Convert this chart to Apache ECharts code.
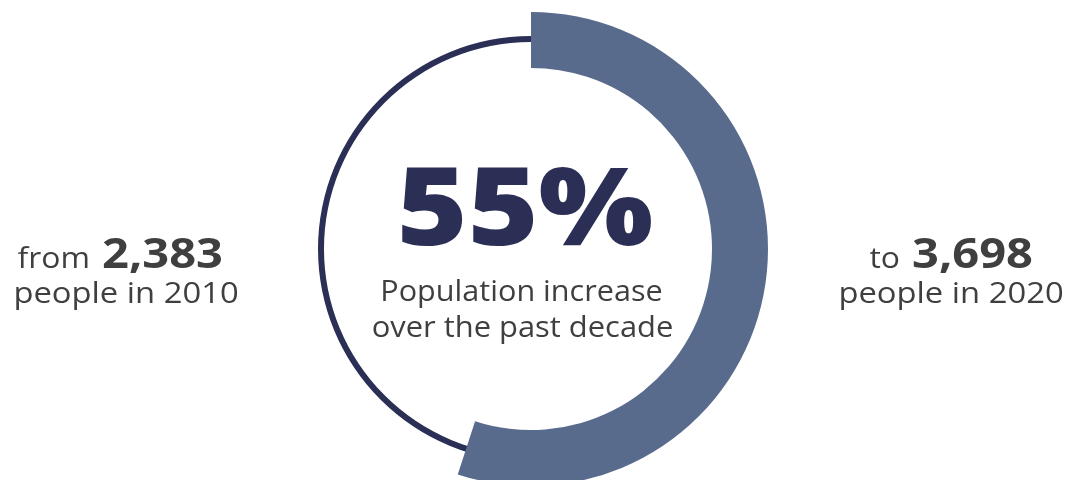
<!DOCTYPE html>
<html>
<head>
<meta charset="utf-8">
<script src="https://cdn.jsdelivr.net/npm/echarts@6/dist/echarts.min.js"></script>
<style>
html,body{margin:0;padding:0;background:#fff;}
#c{width:1072px;height:480px;}
</style>
</head>
<body>
<div id="c"></div>
<script>
// ---- data ----
var percentIncrease = [55];
var populationValues = [2383, 3698];
var populationYears = [2010, 2020];
var sideWords = ['from', 'to'];
var centerCaption = ['Population increase', 'over the past decade'];

function fmt(n){ return n.toLocaleString('en-US'); }

var chart = echarts.init(document.getElementById('c'), null, {renderer: 'canvas'});
var cx = 531, cy = 249;
var navy = '#2b2f55';
var steel = '#596b8c';
var gray = '#3f3f3f';
var font = '"Open Sans", Lato, sans-serif';

var option = {
  backgroundColor: '#ffffff',
  animation: false,
  series: [
    {
      type: 'pie',
      silent: true,
      z: 1,
      center: [cx, cy],
      radius: [207, 213],
      label: {show: false},
      labelLine: {show: false},
      itemStyle: {color: navy, borderWidth: 0},
      data: [{value: 100}]
    },
    {
      type: 'pie',
      silent: true,
      z: 2,
      center: [cx, cy],
      radius: [181, 237],
      startAngle: 90,
      clockwise: true,
      label: {show: false},
      labelLine: {show: false},
      itemStyle: {borderWidth: 0},
      data: [
        {value: percentIncrease[0], itemStyle: {color: steel}},
        {value: 100 - percentIncrease[0], itemStyle: {color: 'rgba(0,0,0,0)'}}
      ]
    }
  ]
};

function txt(str, x, y, size, weight, color, align, sx) {
  return {
    type: 'text', z: 10, x: x, y: y, scaleX: sx || 1,
    style: {
      text: str, fill: color,
      font: weight + ' ' + size + 'px ' + font,
      align: align, verticalAlign: 'middle'
    }
  };
}

option.graphic = [
  txt(percentIncrease[0] + '%', 525, 214.5, 108, 800, navy, 'center', 1.12),
  txt(centerCaption[0], 521.5, 292.5, 30, 500, gray, 'center', 1.02),
  txt(centerCaption[1], 522.5, 328.5, 30, 500, gray, 'center', 1.03),
  // left
  txt(sideWords[0], 90, 259.7, 29, 500, gray, 'right', 1.1),
  txt(fmt(populationValues[0]), 102, 255.6, 42, 700, gray, 'left', 1.12),
  txt('people in ' + populationYears[0], 126, 294.7, 29, 500, gray, 'center', 1.13),
  // right
  txt(sideWords[1], 900, 259.7, 29, 500, gray, 'right', 1.1),
  txt(fmt(populationValues[1]), 912, 255.6, 42, 700, gray, 'left', 1.12),
  txt('people in ' + populationYears[1], 951, 294.7, 29, 500, gray, 'center', 1.13)
];

chart.setOption(option);
</script>
</body>
</html>
